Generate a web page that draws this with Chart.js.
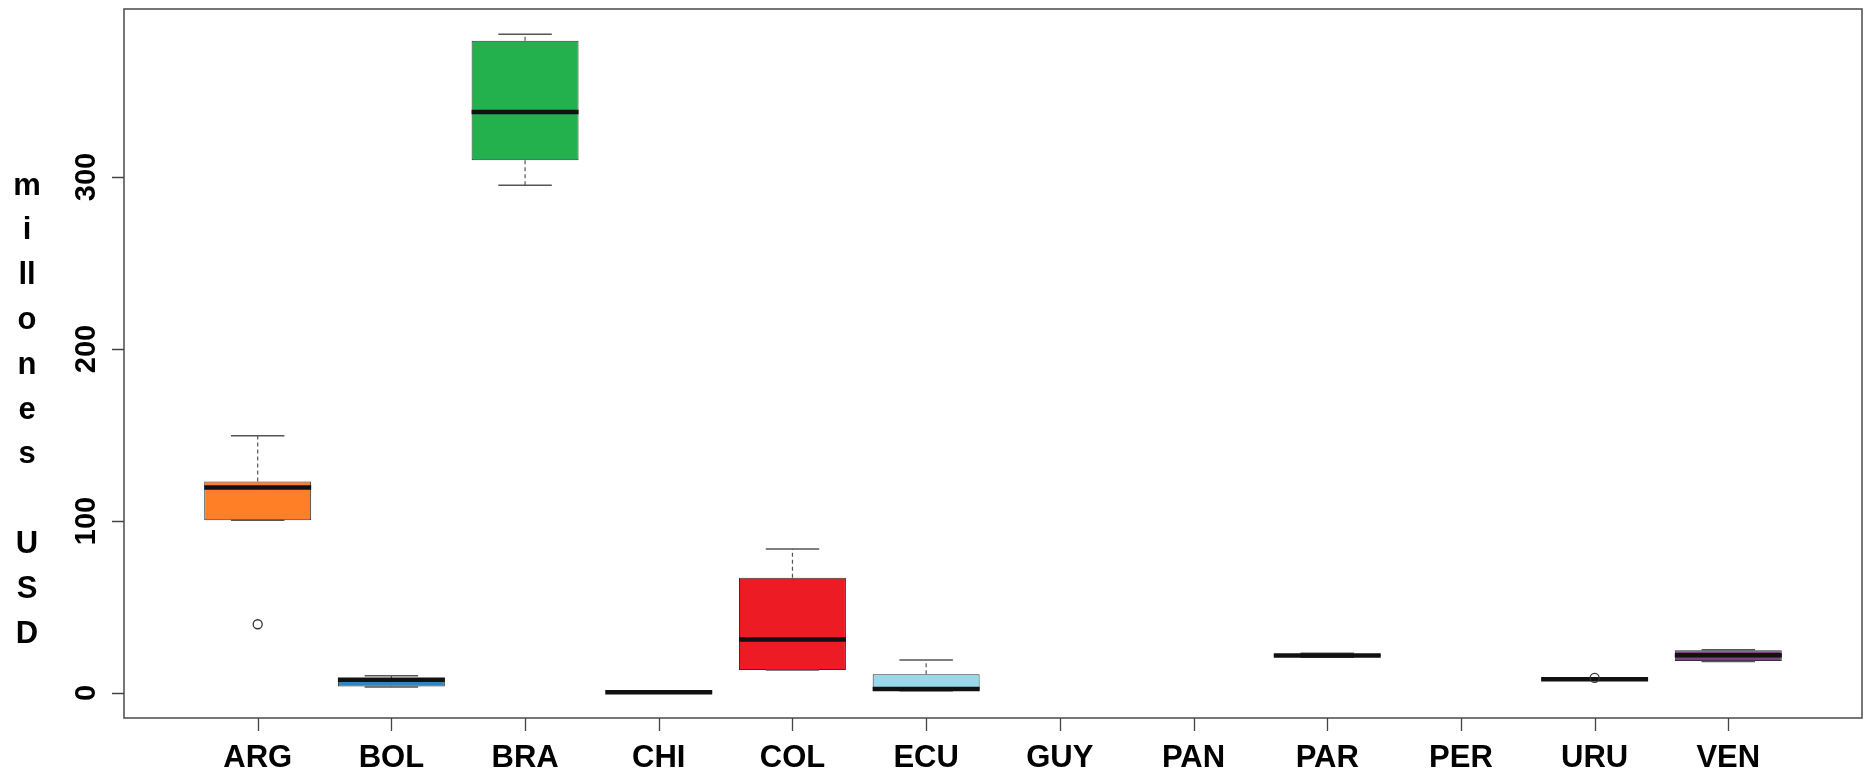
<!DOCTYPE html>
<html>
<head>
<meta charset="utf-8">
<script src="https://cdn.jsdelivr.net/npm/chart.js@4.4.0/dist/chart.umd.min.js"></script>
<style>
  html, body { margin: 0; padding: 0; background: #ffffff; }
  #wrap { width: 1868px; height: 777px; position: relative; }
  canvas { display: block; }
</style>
</head>
<body>
<div id="wrap"><canvas id="c" width="1868" height="777"></canvas></div>
<script>
// ---- data ----
const categories  = ['ARG', 'BOL', 'BRA', 'CHI', 'COL', 'ECU', 'GUY', 'PAN', 'PAR', 'PER', 'URU', 'VEN'];
const whiskerLow  = [100.5, 3.5, 295.3, 0.2, 13.4, 1.3, null, null, 20.8, null, 7.8, 18.4];
const quartile1   = [100.5, 3.8, 309.7, 0.3, 13.4, 1.3, null, null, 21.4, null, 8.0, 18.6];
const medians     = [119.5, 7.8, 337.8, 0.5, 31.2, 2.3, null, null, 21.9, null, 8.1, 22.0];
const quartile3   = [123.0, 8.6, 379.3, 0.7, 67.0, 11.0, null, null, 22.4, null, 8.3, 24.9];
const whiskerHigh = [149.6, 10.0, 383.0, 0.8, 83.7, 19.2, null, null, 23.2, null, 8.5, 25.2];
const outliers    = [[40], [], [], [], [], [], [], [], [], [], [8.8], []];
const boxColors   = ['#ff7f27', '#2f86b8', '#22b14c', '#fff200', '#ed1c24', '#99d9ea',
                     '#c3c3c3', '#c3c3c3', '#b97a57', '#c3c3c3', '#7092be', '#7d4380'];
const yTicks      = [0, 100, 200, 300];
const yTitleLines = ['m', 'i', 'll', 'o', 'n', 'e', 's', '', 'U', 'S', 'D'];

// ---- datasets built from the arrays ----
const boxData = categories.map((c, i) => ({
  x: i + 1,
  y: quartile1[i] == null ? null : [quartile1[i], quartile3[i]]
}));
const outlierData = [];
outliers.forEach((list, i) => list.forEach(v => outlierData.push({ x: i + 1, y: v })));

const FONT = "'Liberation Sans', Arial, sans-serif";

const whiskerPlugin = {
  id: 'whiskers',
  afterDatasetDraw(chart, args) {
    if (args.index !== 0) return;
    const ctx = chart.ctx;
    const ys = chart.scales.y;
    ctx.save();
    args.meta.data.forEach((bar, i) => {
      if (quartile1[i] == null) return;
      const cx = bar.x;
      const w = bar.width;
      const pLow = ys.getPixelForValue(whiskerLow[i]);
      const pQ1 = ys.getPixelForValue(quartile1[i]);
      const pQ3 = ys.getPixelForValue(quartile3[i]);
      const pHigh = ys.getPixelForValue(whiskerHigh[i]);
      const pMed = ys.getPixelForValue(medians[i]);
      // dashed whisker lines
      ctx.strokeStyle = '#555555';
      ctx.lineWidth = 1.2;
      ctx.setLineDash([4, 3]);
      ctx.beginPath();
      ctx.moveTo(cx, pQ3); ctx.lineTo(cx, pHigh);
      ctx.moveTo(cx, pQ1); ctx.lineTo(cx, pLow);
      ctx.stroke();
      // caps
      ctx.setLineDash([]);
      ctx.lineWidth = 1.5;
      ctx.beginPath();
      ctx.moveTo(cx - w / 4, pHigh); ctx.lineTo(cx + w / 4, pHigh);
      ctx.moveTo(cx - w / 4, pLow); ctx.lineTo(cx + w / 4, pLow);
      ctx.stroke();
      // median
      ctx.strokeStyle = '#111111';
      ctx.lineWidth = 4.5;
      ctx.lineCap = 'butt';
      ctx.beginPath();
      ctx.moveTo(cx - w / 2, pMed); ctx.lineTo(cx + w / 2, pMed);
      ctx.stroke();
    });
    ctx.restore();
  }
};

const framePlugin = {
  id: 'frameAndTitle',
  afterDraw(chart) {
    const ctx = chart.ctx;
    const a = chart.chartArea;
    const xs = chart.scales.x;
    const ys = chart.scales.y;
    ctx.save();
    // frame
    ctx.strokeStyle = '#555555';
    ctx.lineWidth = 1.6;
    ctx.strokeRect(a.left, a.top, a.right - a.left, a.bottom - a.top);
    // tick marks at the scales' own tick positions
    ctx.strokeStyle = '#444444';
    ctx.lineWidth = 1.3;
    ctx.beginPath();
    xs.ticks.forEach((t, i) => {
      const px = Math.round(xs.getPixelForTick(i)) + 0.5;
      ctx.moveTo(px, a.bottom); ctx.lineTo(px, a.bottom + 13);
    });
    ys.ticks.forEach((t, i) => {
      const py = Math.round(ys.getPixelForTick(i)) + 0.5;
      ctx.moveTo(a.left - 12, py); ctx.lineTo(a.left, py);
    });
    ctx.stroke();
    // stacked y-axis title
    ctx.fillStyle = '#000000';
    ctx.font = 'bold 31px ' + FONT;
    ctx.textAlign = 'center';
    ctx.textBaseline = 'middle';
    const step = 44.8;
    const top = 186;
    yTitleLines.forEach((t, k) => ctx.fillText(t, 27, top + k * step));
    ctx.restore();
  }
};

new Chart(document.getElementById('c'), {
  type: 'bar',
  data: {
    datasets: [
      {
        type: 'bar',
        data: boxData,
        backgroundColor: boxColors,
        borderColor: '#333333',
        borderWidth: 1,
        borderSkipped: false,
        barPercentage: 1.0,
        categoryPercentage: 0.8,
        order: 0
      },
      {
        type: 'scatter',
        data: outlierData,
        pointStyle: 'circle',
        pointRadius: 4.5,
        pointBackgroundColor: 'rgba(255,255,255,0)',
        pointBorderColor: '#333333',
        pointBorderWidth: 1.3,
        order: -1
      }
    ]
  },
  options: {
    responsive: false,
    animation: false,
    events: [],
    layout: { padding: { left: 0, right: 6, top: 9, bottom: 0 } },
    plugins: { legend: { display: false }, tooltip: { enabled: false }, title: { display: false } },
    scales: {
      x: {
        type: 'linear',
        min: 0,
        max: 13,
        offset: false,
        afterBuildTicks: (s) => { s.ticks = categories.map((c, i) => ({ value: i + 1 })); },
        afterFit: (s) => { s.height = 59; s.paddingLeft = 0; s.paddingRight = 0; },
        border: { display: false },
        grid: { display: false, drawOnChartArea: false, drawTicks: true, tickLength: 13 },
        ticks: {
          autoSkip: false,
          maxRotation: 0,
          padding: 12,
          color: '#000000',
          font: { family: FONT, size: 31, weight: 'bold', lineHeight: 1 },
          callback: (v) => categories[v - 1] || ''
        }
      },
      y: {
        type: 'linear',
        min: -14.5,
        max: 397.7,
        afterBuildTicks: (s) => { s.ticks = yTicks.map(v => ({ value: v })); },
        afterFit: (s) => { s.width = 124; s.paddingTop = 0; s.paddingBottom = 0; },
        border: { display: false },
        grid: { display: false, drawOnChartArea: false, drawTicks: true, tickLength: 12 },
        ticks: {
          minRotation: 90,
          maxRotation: 90,
          crossAlign: 'center',
          padding: 1,
          color: '#000000',
          font: { family: FONT, size: 29, weight: 'bold', lineHeight: 1 }
        }
      }
    }
  },
  plugins: [whiskerPlugin, framePlugin]
});
</script>
</body>
</html>
